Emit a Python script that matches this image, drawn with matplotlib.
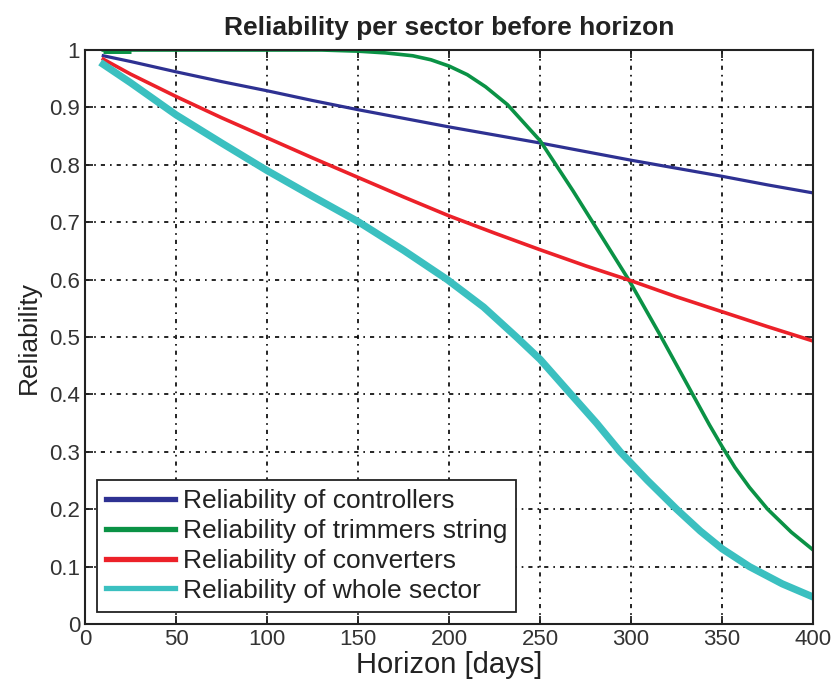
import numpy as np
import matplotlib.pyplot as plt

# Horizon [days] and reliability values
days = [10, 25, 50, 75, 100, 125, 150, 175, 200, 225, 250, 275, 300, 325, 350, 375, 400]
controllers = [0.990, 0.980, 0.962, 0.945, 0.929, 0.912, 0.896, 0.881, 0.866, 0.852,
               0.838, 0.823, 0.808, 0.794, 0.780, 0.765, 0.751]
converters = [0.984, 0.958, 0.919, 0.882, 0.847, 0.812, 0.778, 0.744, 0.711, 0.681,
              0.652, 0.624, 0.598, 0.570, 0.544, 0.518, 0.493]

days_trim = [10, 25, 50, 100, 130, 150, 165, 180, 190, 200, 210, 220, 232, 250, 268,
             284, 299, 316, 334, 343, 350, 357, 365, 375, 388, 400]
trimmers = [1.0, 1.0, 1.0, 1.0, 1.0, 0.998, 0.995, 0.990, 0.983, 0.972, 0.957, 0.936,
            0.905, 0.842, 0.755, 0.674, 0.598, 0.503, 0.399, 0.347, 0.309, 0.273,
            0.238, 0.200, 0.160, 0.129]

days_sector = [10, 25, 50, 75, 100, 125, 150, 175, 199, 219, 237, 250, 267, 281, 294,
               309, 325, 338, 350, 365, 383, 400]
whole_sector = [0.975, 0.943, 0.887, 0.838, 0.790, 0.745, 0.701, 0.651, 0.600, 0.552,
                0.500, 0.461, 0.400, 0.350, 0.300, 0.250, 0.200, 0.162, 0.131, 0.100,
                0.070, 0.047]

labels = ['Reliability of controllers', 'Reliability of trimmers string',
          'Reliability of converters', 'Reliability of whole sector']
colors = ['#2e3192', '#0a9245', '#ec2129', '#3bc0c0']

plt.rcParams['font.family'] = ['Liberation Sans', 'DejaVu Sans']

fig = plt.figure(figsize=(8.34, 6.87), dpi=100)
ax = fig.add_axes([0.102, 0.0917, 0.873, 0.8355])

ax.plot(days, controllers, color=colors[0], lw=2.3, label=labels[0])
ax.plot(days_trim, trimmers, color=colors[1], lw=2.6, label=labels[1])
ax.plot(days_trim[:2], trimmers[:2], color=colors[1], lw=5, solid_capstyle='butt')
ax.plot(days, converters, color=colors[2], lw=2.6, label=labels[2])
ax.plot(days_sector, whole_sector, color=colors[3], lw=5.2, label=labels[3])

ax.set_xlim(0, 400)
ax.set_ylim(0, 1)
ax.set_xticks(np.arange(0, 401, 50))
ax.set_yticks(np.arange(0, 1.01, 0.1))
ax.set_yticklabels(['0', '0.1', '0.2', '0.3', '0.4', '0.5', '0.6', '0.7', '0.8', '0.9', '1'])
ax.tick_params(direction='in', top=True, right=True, length=6, width=1.3,
               labelsize=16, colors='#222222', labelcolor='#333333')
ax.grid(True, color='black', lw=1.2, dashes=(2.5, 3, 1, 3))
for s in ax.spines.values():
    s.set_linewidth(1.5)
    s.set_color('#222222')

ax.set_title('Reliability per sector before horizon', fontsize=19, fontweight='bold',
             pad=11, color='#222222')
ax.set_xlabel('Horizon [days]', fontsize=21, labelpad=1, color='#222222')
ax.set_ylabel('Reliability', fontsize=19, labelpad=6, color='#222222')

leg = ax.legend(loc='lower left', bbox_to_anchor=(0.0165, 0.021), fontsize=19,
                handlelength=2.6, handletextpad=0.3, labelspacing=0.22,
                borderpad=0.35, borderaxespad=0, fancybox=False, framealpha=1)
leg.get_frame().set_edgecolor('#222222')
leg.get_frame().set_linewidth(1.3)
for line in leg.get_lines():
    line.set_linewidth(3.8)
for t in leg.get_texts():
    t.set_color('#222222')

fig.savefig('out.png', dpi=100)
